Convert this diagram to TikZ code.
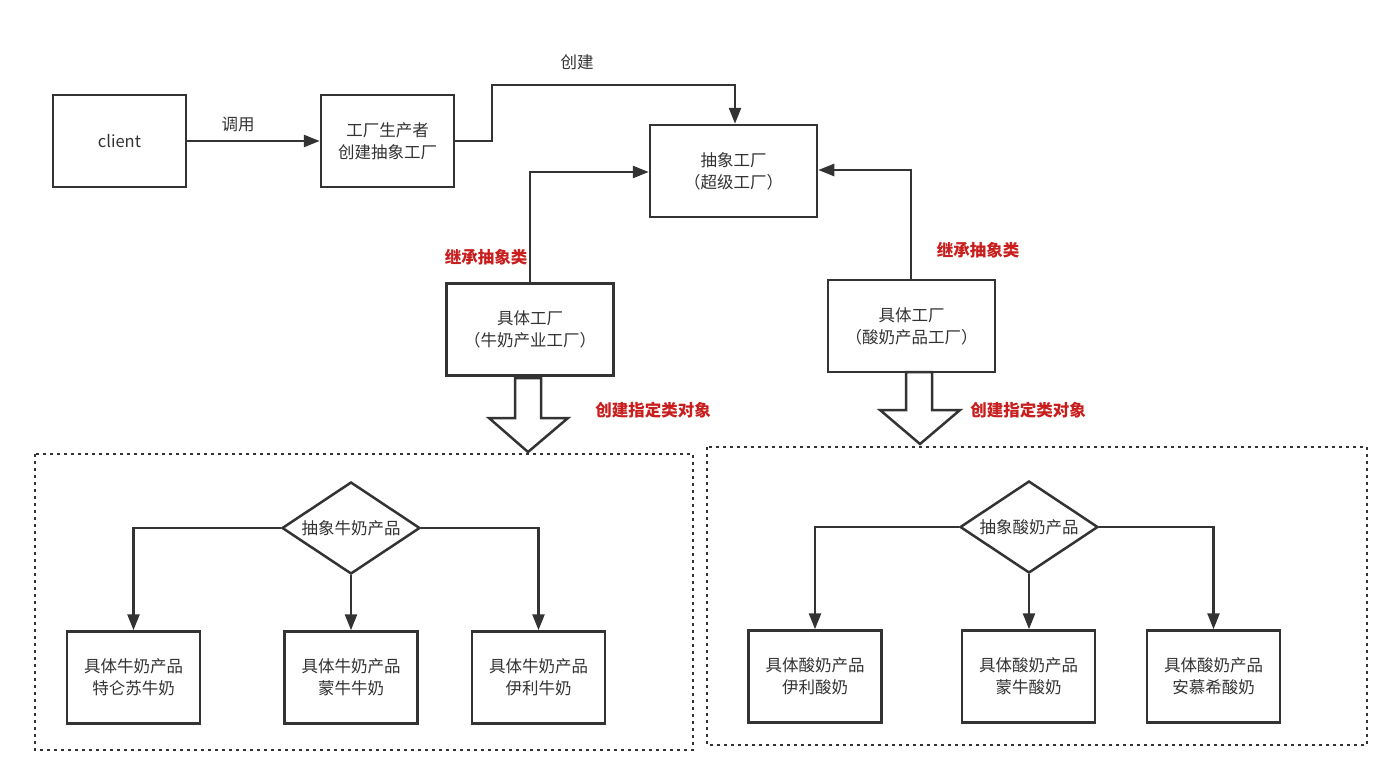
\documentclass[tikz,border=0pt]{standalone}
\usepackage{fontspec}
\setmainfont{Noto Sans CJK SC}
\usetikzlibrary{arrows.meta,shapes.geometric}
\definecolor{ink}{HTML}{333333}
\definecolor{lbl}{HTML}{C81E1E}
\begin{document}
\begin{tikzpicture}[x=1pt,y=-1pt,
  box/.style={draw=ink,line width=2.5pt,fill=white,minimum width=133pt,minimum height=92pt,inner sep=0pt,align=center,font=\fontsize{16.5}{22}\selectfont,text=ink},
  bigbox/.style={box,minimum width=167pt},
  dia/.style={draw=ink,line width=2.5pt,diamond,aspect=1.5,minimum width=138pt,minimum height=92pt,inner sep=0pt,font=\fontsize{16.5}{19}\selectfont,text=ink},
  conn/.style={draw=ink,line width=2.5pt,-{Triangle[length=16pt,width=12pt]}},
  redlbl/.style={text=lbl,font=\fontsize{16.5}{19}\selectfont\bfseries},
  lbltxt/.style={text=ink,font=\fontsize{16.5}{19}\selectfont},
  dots/.style={draw=ink,line width=2.8pt,dash pattern=on 3pt off 4pt},
  hollow/.style={draw=ink,line width=2.5pt,fill=white,line join=miter}
]
\useasboundingbox (0,0) rectangle (1400,784);
\fill[white] (0,0) rectangle (1400,784);

% dashed groups
\draw[dots] (35,454) rectangle (693,750);
\draw[dots] (707,447) rectangle (1367,745);

% top row
\node[box] (client) at (119.5,141) {client};
\node[box] (prod) at (387.5,141) {工厂生产者\\创建抽象工厂};
\node[bigbox] (abs) at (733.5,171) {抽象工厂\\（超级工厂）};
\node[bigbox] (milkf) at (530,329.5) {具体工厂\\（牛奶产业工厂）};
\node[bigbox] (yogf) at (911.5,326) {具体工厂\\（酸奶产品工厂）};

\draw[conn] (client.east) -- (prod.west);
\node[lbltxt] (l1) at (238,124) {调用};
\coordinate (c1) at (492,141);
\coordinate (c2) at (492,85);
\coordinate (c3) at (735,85);
\draw[conn] (prod.east) -- (c1) -- (c2) -- (c3) -- (abs.north -| c3);
\node[lbltxt] (l2) at (577,62) {创建};

\coordinate (c4) at (530,172);
\draw[conn] (milkf.north) -- (c4) -- (abs.west |- c4);
\node[redlbl] (l3) at (486,257) {继承抽象类};
\coordinate (c5) at (911,170);
\draw[conn] (yogf.north -| c5) -- (c5) -- (abs.east |- c5);
\node[redlbl] (l4) at (978,250) {继承抽象类};

% hollow arrows
\draw[hollow] (515,378) -- (541,378) -- (541,418) -- (568,418) -- (528,452) -- (489,418) -- (515,418) -- cycle;
\node[redlbl] (l5) at (653,410) {创建指定类对象};
\draw[hollow] (906,372) -- (932,372) -- (932,410) -- (960,410) -- (920,444) -- (880,410) -- (906,410) -- cycle;
\node[redlbl] (l6) at (1028,410) {创建指定类对象};

% milk group
\node[dia] (dm) at (351,528) {抽象牛奶产品};
\node[box] (m1) at (133.5,677.5) {具体牛奶产品\\特仑苏牛奶};
\node[box] (m2) at (351,677.5) {具体牛奶产品\\蒙牛牛奶};
\node[box] (m3) at (538.5,677.5) {具体牛奶产品\\伊利牛奶};
\draw[conn] (dm.west) -| (m1.north);
\draw[conn] (dm.south) -- (m2.north);
\draw[conn] (dm.east) -| (m3.north);

% yogurt group
\node[dia] (dy) at (1029,527) {抽象酸奶产品};
\node[box] (y1) at (815,676.5) {具体酸奶产品\\伊利酸奶};
\node[box] (y2) at (1028.5,676.5) {具体酸奶产品\\蒙牛酸奶};
\node[box] (y3) at (1213.5,676.5) {具体酸奶产品\\安慕希酸奶};
\draw[conn] (dy.west) -| (y1.north);
\draw[conn] (dy.south) -- (y2.north -| dy.south);
\draw[conn] (dy.east) -| (y3.north);
\end{tikzpicture}
\end{document}
